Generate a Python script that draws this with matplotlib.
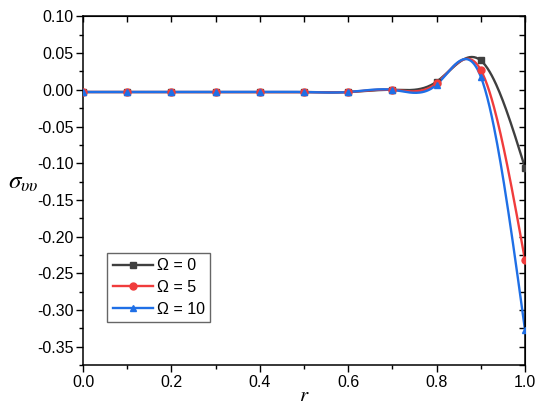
import numpy as np
import matplotlib
matplotlib.use("Agg")
import matplotlib.pyplot as plt
from matplotlib.ticker import MultipleLocator, FormatStrFormatter

plt.rcParams['font.family'] = ['Liberation Sans', 'DejaVu Sans']
plt.rcParams['mathtext.fontset'] = 'stix'

r = [0.0, 0.1, 0.2, 0.3, 0.4, 0.5, 0.6, 0.7, 0.8, 0.9, 1.0]
s_omega0 = [-0.003, -0.003, -0.003, -0.003, -0.003, -0.003, -0.003, 0.000, 0.011, 0.040, -0.106]
s_omega5 = [-0.003, -0.003, -0.003, -0.003, -0.003, -0.003, -0.003, 0.000, 0.009, 0.027, -0.232]
s_omega10 = [-0.003, -0.003, -0.003, -0.003, -0.003, -0.003, -0.003, 0.000, 0.007, 0.018, -0.327]
labels = ['Ω = 0', 'Ω = 5', 'Ω = 10']
colors = ['#3f3f3f', '#f03c3c', '#1f6fe6']
markers = ['s', 'o', '^']


def natural_spline(x, y, n=400):
    x = np.asarray(x, float)
    y = np.asarray(y, float)
    k = len(x)
    h = np.diff(x)
    A = np.zeros((k, k))
    b = np.zeros(k)
    A[0, 0] = 1
    A[-1, -1] = 1
    for i in range(1, k - 1):
        A[i, i - 1] = h[i - 1]
        A[i, i] = 2 * (h[i - 1] + h[i])
        A[i, i + 1] = h[i]
        b[i] = 6 * ((y[i + 1] - y[i]) / h[i] - (y[i] - y[i - 1]) / h[i - 1])
    M = np.linalg.solve(A, b)
    xs = np.linspace(x[0], x[-1], n)
    idx = np.clip(np.searchsorted(x, xs) - 1, 0, k - 2)
    x0, x1 = x[idx], x[idx + 1]
    hh = x1 - x0
    ys = (M[idx] * (x1 - xs) ** 3 / (6 * hh) + M[idx + 1] * (xs - x0) ** 3 / (6 * hh)
          + (y[idx] / hh - M[idx] * hh / 6) * (x1 - xs)
          + (y[idx + 1] / hh - M[idx + 1] * hh / 6) * (xs - x0))
    return xs, ys


fig = plt.figure(figsize=(5.5, 4.11), dpi=100)
ax = fig.add_axes([0.151, 0.112, 0.8035, 0.848])

for ys, lab, c, m in zip([s_omega0, s_omega5, s_omega10], labels, colors, markers):
    xs, yy = natural_spline(r, ys)
    ax.plot(xs, yy, color=c, lw=1.7, zorder=2)
    ax.plot(r, ys, linestyle='none', marker=m, color=c, ms=5, zorder=3)
    ax.plot([], [], color=c, lw=1.7, marker=m, ms=5, label=lab)

ax.set_xlim(0, 1.0)
ax.set_ylim(-0.375, 0.10)
ax.xaxis.set_major_locator(MultipleLocator(0.2))
ax.xaxis.set_minor_locator(MultipleLocator(0.1))
ax.yaxis.set_major_locator(MultipleLocator(0.05))
ax.yaxis.set_minor_locator(MultipleLocator(0.025))
ax.xaxis.set_major_formatter(FormatStrFormatter('%.1f'))
ax.yaxis.set_major_formatter(FormatStrFormatter('%.2f'))

ax.tick_params(axis='both', which='major', direction='out', length=5, width=1.0,
               labelsize=11.5, pad=2)
ax.tick_params(axis='both', which='minor', direction='out', length=3, width=1.0)
ax.tick_params(which='both', top=False, right=False)

sec_x = ax.secondary_xaxis('top')
sec_x.xaxis.set_major_locator(MultipleLocator(0.1))
sec_x.tick_params(direction='in', length=4, width=1.0, labeltop=False)
sec_x.xaxis.set_major_formatter(plt.NullFormatter())
sec_y = ax.secondary_yaxis('right')
sec_y.yaxis.set_major_locator(MultipleLocator(0.025))
sec_y.tick_params(direction='in', length=4, width=1.0, labelright=False)
sec_y.yaxis.set_major_formatter(plt.NullFormatter())

for sp in ax.spines.values():
    sp.set_linewidth(1.1)

ax.set_xlabel('$r$', fontsize=15, labelpad=-3)
ax.set_ylabel(r'$\sigma_{\upsilon\upsilon}$', fontsize=18, rotation=0)
ax.yaxis.label.set_va('center')
ax.yaxis.set_label_coords(-0.135, 0.525)

leg = ax.legend(loc='lower left', bbox_to_anchor=(0.055, 0.123), fontsize=11.5,
                frameon=True, fancybox=False, edgecolor='#666666', framealpha=1,
                handlelength=2.5, borderpad=0.35, labelspacing=0.42, handletextpad=0.25,
                borderaxespad=0)
leg.get_frame().set_linewidth(1.0)

fig.savefig('out.png', dpi=100)
